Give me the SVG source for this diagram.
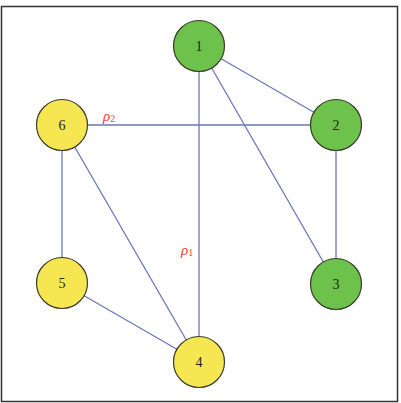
<svg xmlns="http://www.w3.org/2000/svg" width="401" height="403" viewBox="0 0 401 403">
<style>
.e{stroke:#6b78b8;stroke-width:1.3;fill:none}
.n{stroke:#3a3a2a;stroke-width:1.2}
.g{fill:#6cc24a}
.y{fill:#f6e652}
.t{font-family:"Liberation Serif",serif;font-size:14px;fill:#222;text-anchor:middle}
.l{font-family:"Liberation Serif",serif;font-size:15px;font-style:italic;fill:#e8443a}
.s{font-size:10px;font-style:normal}
</style>
<rect x="1.5" y="6.5" width="396" height="395" fill="#fff" stroke="#333" stroke-width="1.5"/>
<g id="edges">
<line class="e" x1="199" y1="46" x2="336" y2="125"/>
<line class="e" x1="199" y1="46" x2="336" y2="284"/>
<line class="e" x1="199" y1="46" x2="199" y2="362"/>
<line class="e" x1="62" y1="125" x2="336" y2="125"/>
<line class="e" x1="62" y1="125" x2="62" y2="283"/>
<line class="e" x1="62" y1="125" x2="199" y2="362"/>
<line class="e" x1="62" y1="283" x2="199" y2="362"/>
<line class="e" x1="336" y1="125" x2="336" y2="284"/>
</g>
<g id="labels">
<text class="l" x="103" y="121">ρ<tspan class="s" dy="1">2</tspan></text>
<text class="l" x="181" y="255">ρ<tspan class="s" dy="1">1</tspan></text>
</g>
<g id="n1"><circle class="n g" cx="199" cy="46" r="25.5"/><text class="t" x="199" y="51">1</text></g>
<g id="n2"><circle class="n g" cx="336" cy="125" r="25.5"/><text class="t" x="336" y="130">2</text></g>
<g id="n3"><circle class="n g" cx="336" cy="284" r="25.5"/><text class="t" x="336" y="289">3</text></g>
<g id="n4"><circle class="n y" cx="199" cy="362" r="25.5"/><text class="t" x="199" y="367">4</text></g>
<g id="n5"><circle class="n y" cx="62" cy="283" r="25.5"/><text class="t" x="62" y="288">5</text></g>
<g id="n6"><circle class="n y" cx="62" cy="125" r="25.5"/><text class="t" x="62" y="130">6</text></g>
</svg>
